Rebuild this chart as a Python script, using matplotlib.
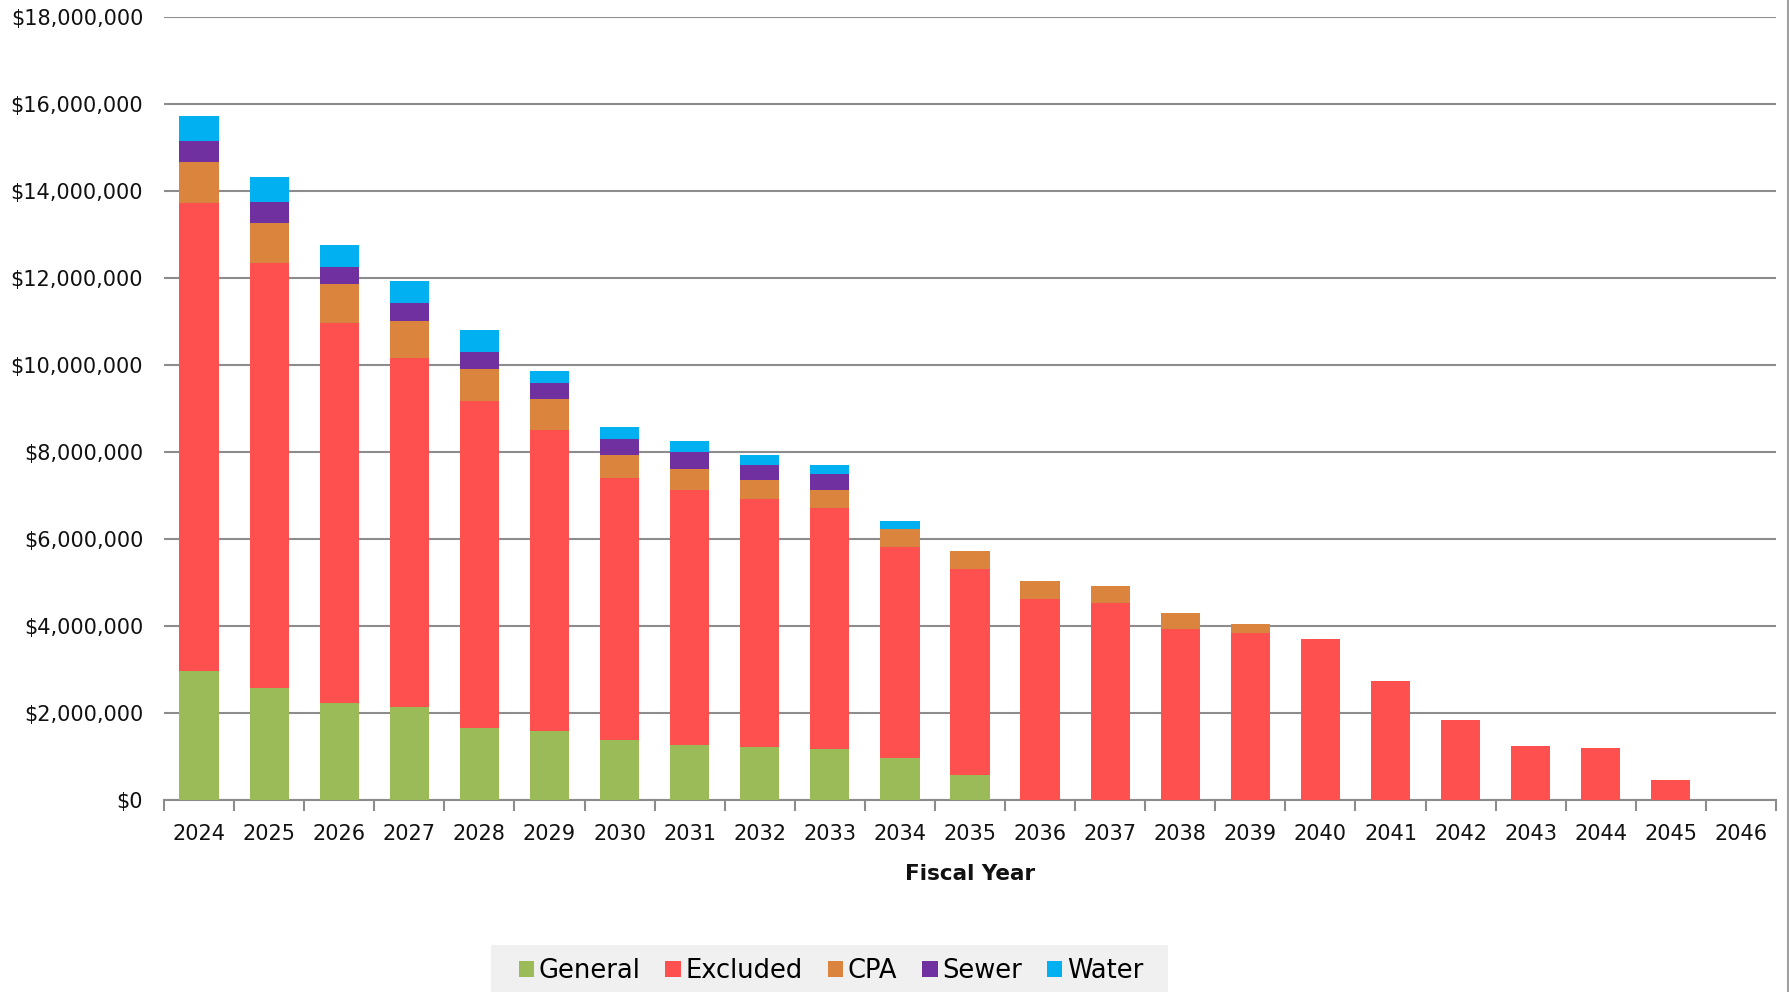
import matplotlib
matplotlib.use("Agg")
import matplotlib.pyplot as plt
from matplotlib.patches import Patch, Rectangle
from matplotlib.lines import Line2D
from matplotlib.ticker import FuncFormatter, FixedLocator
import numpy as np

years = [str(y) for y in range(2024, 2047)]
general  = [2.97, 2.57, 2.22, 2.13, 1.65, 1.59, 1.38, 1.26, 1.22, 1.17, 0.97, 0.58,
            0, 0, 0, 0, 0, 0, 0, 0, 0, 0, 0]
excluded = [10.75, 9.78, 8.75, 8.04, 7.52, 6.92, 6.03, 5.86, 5.69, 5.54, 4.84, 4.74,
            4.63, 4.52, 3.93, 3.83, 3.70, 2.73, 1.83, 1.25, 1.20, 0.46, 0]
cpa      = [0.95, 0.91, 0.89, 0.85, 0.74, 0.71, 0.51, 0.50, 0.44, 0.42, 0.41, 0.40,
            0.40, 0.40, 0.36, 0.21, 0, 0, 0, 0, 0, 0, 0]
sewer    = [0.49, 0.49, 0.40, 0.40, 0.40, 0.36, 0.39, 0.37, 0.36, 0.37, 0, 0,
            0, 0, 0, 0, 0, 0, 0, 0, 0, 0, 0]
water    = [0.56, 0.57, 0.49, 0.50, 0.49, 0.28, 0.26, 0.27, 0.21, 0.21, 0.19, 0,
            0, 0, 0, 0, 0, 0, 0, 0, 0, 0, 0]

series = [("General", general, "#9BBB59"),
          ("Excluded", excluded, "#FF5050"),
          ("CPA", cpa, "#DB843D"),
          ("Sewer", sewer, "#7030A0"),
          ("Water", water, "#00B0F0")]

plt.rcParams['font.family'] = ['DejaVu Sans']
W, H = 1790, 992
fig = plt.figure(figsize=(W/100, H/100), dpi=100)
ax = fig.add_axes([164/W, 1-800/H, (1776-164)/W, (800-17)/H])

x = np.arange(len(years))
bottom = np.zeros(len(years))
for name, vals, col in series:
    v = np.array(vals) * 1e6
    ax.bar(x, v, width=0.56, bottom=bottom, color=col, label=name, zorder=3)
    bottom += v

ax.set_xlim(-0.5, len(years)-0.5)
ax.set_ylim(0, 18e6)
ax.set_yticks(np.arange(0, 18e6+1, 2e6))
ax.yaxis.set_major_formatter(FuncFormatter(lambda v, p: "${:,.0f}".format(v)))
ax.grid(axis='y', color='#8c8c8c', linewidth=1.5, zorder=0)
ax.set_axisbelow(True)
for s in ['left', 'right', 'top']:
    ax.spines[s].set_visible(False)
ax.spines['bottom'].set_color('#8c8c8c')
ax.spines['bottom'].set_linewidth(1.5)
ax.tick_params(axis='y', length=0, pad=15, labelsize=15, labelcolor='#111111')

ax.set_xticks(x)
ax.set_xticklabels(years)
ax.tick_params(axis='x', which='major', length=0, pad=17, labelsize=15, labelcolor='#111111')
ax.xaxis.set_minor_locator(FixedLocator(np.arange(-0.5, len(years), 1.0)))
ax.tick_params(axis='x', which='minor', length=8, width=1.5, color='#8c8c8c')

fig.text(970/W, 1-874/H, "Fiscal Year", ha='center', va='center',
         fontsize=15.5, fontweight='bold', color='#111111')

# legend background
fig.add_artist(Rectangle((491/W, 0), (1168-491)/W, (992-945)/H,
                         transform=fig.transFigure, facecolor='#F0F0F0',
                         edgecolor='none', zorder=0))
handles = [Patch(facecolor=c, edgecolor='none') for _, _, c in series]
labels = [n for n, _, _ in series]
fig.legend(handles, labels, loc='center', bbox_to_anchor=(831/W, 1-971/H),
           ncol=5, frameon=False, fontsize=18.5, handlelength=0.6, handleheight=0.6,
           handletextpad=0.18, columnspacing=0.97)

# right border line
fig.add_artist(Line2D([1788/W, 1788/W], [0, 1], transform=fig.transFigure,
                      color='#a0a0a0', linewidth=1.5))

fig.savefig("out.png", dpi=100)
